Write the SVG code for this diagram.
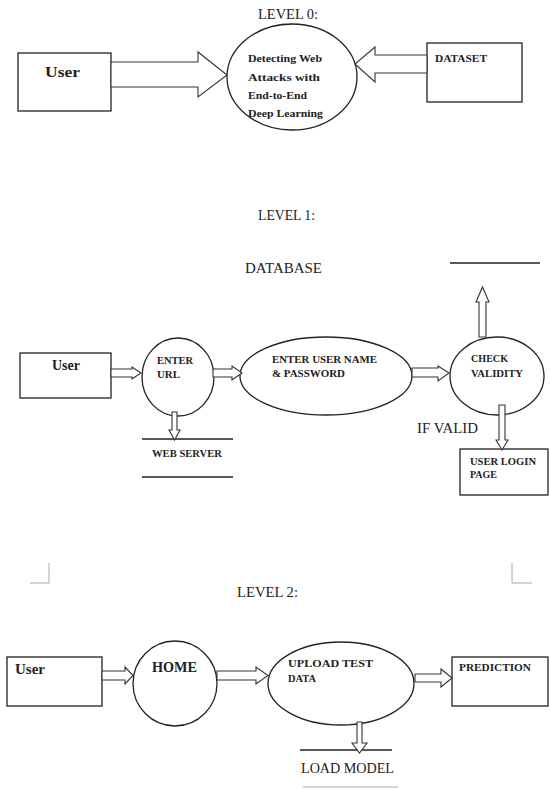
<svg xmlns="http://www.w3.org/2000/svg" width="550" height="789" viewBox="0 0 550 789">
<style>
.shape{fill:#fff;stroke:#222;stroke-width:1.3}
.arr{fill:#fff;stroke:#333;stroke-width:1.1;stroke-linejoin:miter}
.ln{stroke:#222;stroke-width:1.3;fill:none}
.faint{stroke:#aaa;stroke-width:1;fill:none}
.h{font-family:"Liberation Serif",serif;font-size:14px;fill:#222}
.b{font-family:"Liberation Serif",serif;font-size:10.5px;font-weight:bold;fill:#222}
.bu{font-family:"Liberation Serif",serif;font-size:14px;font-weight:bold;fill:#222}
</style>
<rect width="550" height="789" fill="#fff"/>

<!-- Level 0 -->
<text class="h" x="258" y="19" textLength="60" lengthAdjust="spacingAndGlyphs">LEVEL 0:</text>
<g id="l0-user">
<rect class="shape" x="18" y="53" width="93" height="58"/>
<text class="bu" x="45" y="77" textLength="35" lengthAdjust="spacingAndGlyphs">User</text>
</g>
<g id="l0-process">
<ellipse class="shape" cx="292" cy="77" rx="65" ry="53"/>
<text class="b" x="248" y="62" textLength="74" lengthAdjust="spacingAndGlyphs">Detecting Web</text>
<text class="b" x="248" y="81" textLength="72" lengthAdjust="spacingAndGlyphs">Attacks with</text>
<text class="b" x="248" y="99" textLength="59" lengthAdjust="spacingAndGlyphs">End-to-End</text>
<text class="b" x="248" y="117" textLength="75" lengthAdjust="spacingAndGlyphs">Deep Learning</text>
</g>
<g id="l0-dataset">
<rect class="shape" x="427" y="43" width="95" height="59"/>
<text class="b" x="435" y="62" textLength="52" lengthAdjust="spacingAndGlyphs">DATASET</text>
</g>

<!-- Level 1 -->
<text class="h" x="258" y="220" textLength="57" lengthAdjust="spacingAndGlyphs">LEVEL 1:</text>
<g id="l1-database">
<text class="h" x="245" y="273" textLength="77" lengthAdjust="spacingAndGlyphs">DATABASE</text>
<line class="ln" x1="450" y1="263" x2="540" y2="263"/>
</g>
<g id="l1-user">
<rect class="shape" x="20" y="353" width="91" height="45"/>
<text class="bu" x="52" y="370" textLength="28" lengthAdjust="spacingAndGlyphs">User</text>
</g>
<g id="l1-enter-url">
<ellipse class="shape" cx="178" cy="377" rx="36" ry="39"/>
<text class="b" x="157" y="364" textLength="36" lengthAdjust="spacingAndGlyphs">ENTER</text>
<text class="b" x="157" y="378" textLength="23" lengthAdjust="spacingAndGlyphs">URL</text>
</g>
<g id="l1-credentials">
<ellipse class="shape" cx="326" cy="376" rx="86" ry="39"/>
<text class="b" x="272" y="363" textLength="105" lengthAdjust="spacingAndGlyphs">ENTER USER NAME</text>
<text class="b" x="272" y="377" textLength="73" lengthAdjust="spacingAndGlyphs">&amp; PASSWORD</text>
</g>
<g id="l1-check">
<ellipse class="shape" cx="497" cy="376" rx="47" ry="39"/>
<text class="b" x="471" y="362" textLength="37" lengthAdjust="spacingAndGlyphs">CHECK</text>
<text class="b" x="471" y="377" textLength="52" lengthAdjust="spacingAndGlyphs">VALIDITY</text>
</g>
<g id="l1-webserver">
<line class="ln" x1="142" y1="439" x2="233" y2="439"/>
<line class="ln" x1="142" y1="477" x2="233" y2="477"/>
<text class="b" x="152" y="457" textLength="70" lengthAdjust="spacingAndGlyphs">WEB SERVER</text>
</g>
<text class="h" x="417" y="433" textLength="61" lengthAdjust="spacingAndGlyphs">IF VALID</text>
<g id="l1-login">
<rect class="shape" x="460" y="449" width="88" height="46"/>
<text class="b" x="470" y="465" textLength="66" lengthAdjust="spacingAndGlyphs">USER LOGIN</text>
<text class="b" x="470" y="478" textLength="27" lengthAdjust="spacingAndGlyphs">PAGE</text>
</g>

<!-- Level 2 -->
<polyline class="faint" points="30,583 49,583 49,563"/>
<polyline class="faint" points="512,563 512,583 532,583"/>
<text class="h" x="237" y="597" textLength="61" lengthAdjust="spacingAndGlyphs">LEVEL 2:</text>
<g id="l2-user">
<rect class="shape" x="7" y="657" width="95" height="49"/>
<text class="bu" x="15" y="674" textLength="30" lengthAdjust="spacingAndGlyphs">User</text>
</g>
<g id="l2-home">
<ellipse class="shape" cx="175" cy="683.5" rx="42" ry="42.5"/>
<text class="bu" x="152" y="672" textLength="45" lengthAdjust="spacingAndGlyphs">HOME</text>
</g>
<g id="l2-upload">
<ellipse class="shape" cx="341" cy="683.5" rx="73" ry="41.5"/>
<text class="b" x="288" y="667" textLength="85" lengthAdjust="spacingAndGlyphs">UPLOAD TEST</text>
<text class="b" x="288" y="682" textLength="28" lengthAdjust="spacingAndGlyphs">DATA</text>
</g>
<g id="l2-prediction">
<rect class="shape" x="452" y="657" width="96" height="49"/>
<text class="b" x="459" y="671" textLength="72" lengthAdjust="spacingAndGlyphs">PREDICTION</text>
</g>
<g id="l2-loadmodel">
<line class="ln" x1="300" y1="750" x2="392" y2="750"/>
<text class="h" x="301" y="773" textLength="93" lengthAdjust="spacingAndGlyphs">LOAD MODEL</text>
<line class="faint" x1="303" y1="787" x2="398" y2="787"/>
</g>

<!-- Connectors -->
<g id="connectors">
<polygon class="arr" points="111,62 198,62 198,52 227,75 198,97 198,87 111,87"/>
<polygon class="arr" points="427,55 375,55 375,47 355,64 375,82 375,73 427,73"/>
<polygon class="arr" points="111,369 132,369 132,367 141,373 132,379 132,377 111,377"/>
<polygon class="arr" points="213,369 232,369 232,366 242,373 232,380 232,377 213,377"/>
<polygon class="arr" points="412,368 438,368 438,366 449,373 438,381 438,377 412,377"/>
<polygon class="arr" points="479,337 479,302 476,302 482.5,287 489,302 486,302 486,337"/>
<polygon class="arr" points="172,412 172,430 169,430 174.5,440 180,430 177,430 177,412"/>
<polygon class="arr" points="499,405 499,440 496,440 502,450 508,440 505,440 505,405"/>
<polygon class="arr" points="102,671 125,671 125,667 133,675.5 125,684 125,680 102,680"/>
<polygon class="arr" points="217,671 256,671 256,667 268,675.5 256,684 256,680 217,680"/>
<polygon class="arr" points="415,674 441,674 441,669 452,678 441,687 441,682 415,682"/>
<polygon class="arr" points="357,722 357,743 352,743 359.5,753 367,743 362,743 362,722"/>
</g>
</svg>
